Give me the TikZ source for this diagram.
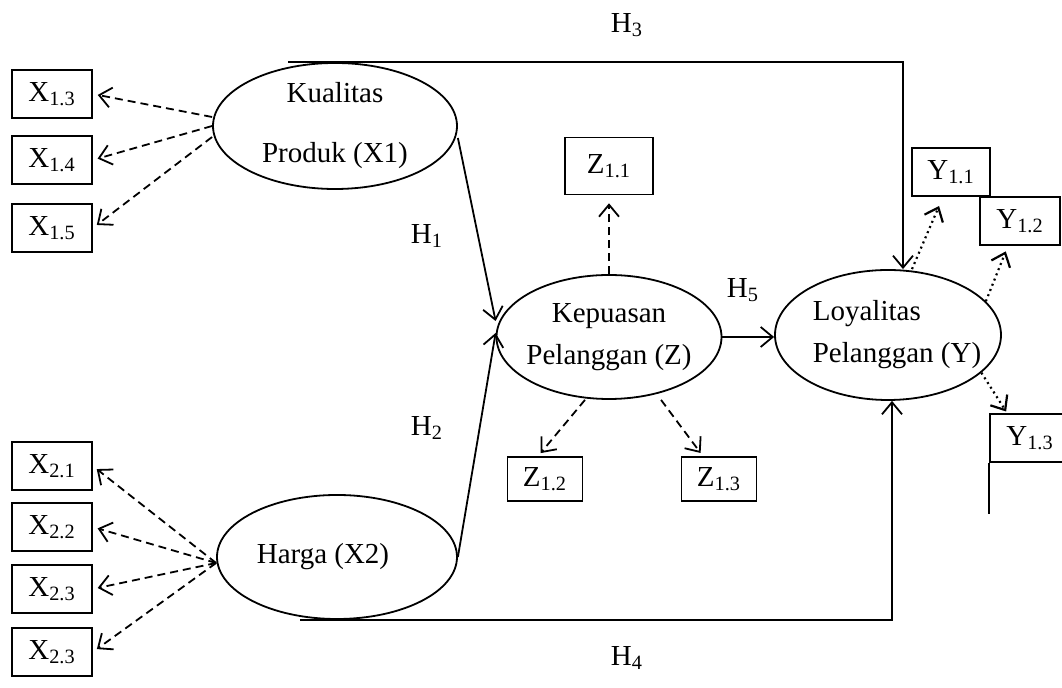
\documentclass[tikz,border=0pt]{standalone}
\usepackage{fontspec}
\setmainfont{Liberation Serif}
\usetikzlibrary{arrows.meta,shapes.geometric,positioning}
\tikzstyle{latent}   =[ellipse, draw, line width=0.9pt,
                       inner sep=-3pt, align=center]
\tikzstyle{indicator}=[rectangle, draw, line width=0.8pt,
                       minimum width=40pt, minimum height=24pt,
                       inner sep=0pt]
\tikzstyle{regress}  =[->, line width=0.9pt]
\tikzstyle{loading}  =[->, dash pattern=on 4pt off 2.5pt,
                       line width=0.9pt, shorten >=2.5pt]
\tikzstyle{loaddot}  =[->, dash pattern=on 1pt off 1.8pt,
                       line width=1.1pt]

\begin{document}
\begin{tikzpicture}[x=0.5pt, y=-0.5pt, >={Straight Barb[length=6pt,width=10pt]},
            every node/.style={font=\fontsize{14.5}{21}\selectfont}]
    \fill[white] (0,0) rectangle (1062,688);
    \useasboundingbox (0,0) rectangle (1062,688);

    % latent variables
    \node[latent, minimum width=122pt, minimum height=63pt] (kp) at (335,126)
        {Kualitas\\[9pt]Produk (X1)};
    \node[latent, minimum width=120pt, minimum height=62pt] (hg) at (337,557)
        {Harga (X2)\hspace{14pt}};
    \node[latent, minimum width=112.5pt, minimum height=62pt] (kz) at (609,337)
        {Kepuasan\\Pelanggan (Z)};
    \node[latent, minimum width=113pt, minimum height=65pt, align=left,
          inner xsep=-8pt] (ly) at (888,335)
        {\hspace{9pt}Loyalitas\\\hspace{9pt}Pelanggan (Y)};

    % indicators
    \foreach \n/\y/\t in {x13/94/1.3, x14/160/1.4, x15/228/1.5}
        \node[indicator] (\n) at (52,\y) {X\textsubscript{\t}};
    \foreach \n/\y/\t in {x21/466/2.1, x22/527/2.2, x23/589/2.3, x24/652/2.3}
        \node[indicator] (\n) at (52,\y) {X\textsubscript{\t}};
    \node[indicator, minimum width=44pt, minimum height=28.5pt] (z11) at (609,166) {Z\textsubscript{1.1}};
    \node[indicator, minimum width=37.5pt, minimum height=22pt] (z12) at (545,479) {Z\textsubscript{1.2}};
    \node[indicator, minimum width=37.5pt, minimum height=22pt] (z13) at (719,479) {Z\textsubscript{1.3}};
    \node[indicator, minimum width=39pt] (y11) at (951,172) {Y\textsubscript{1.1}};
    \node[indicator] (y12) at (1020,221) {Y\textsubscript{1.2}};
    \node[indicator] (y13) at (1030,438) {Y\textsubscript{1.3}};
    \draw[line width=0.8pt] (y13.south west) -- ++(0,51);

    % loadings
    \draw[loading] ([yshift=4.5pt]kp.west) to (x13.east);
    \draw[loading] (kp.west) to (x14.east);
    \draw[loading] ([yshift=-5.5pt]kp.west) to (x15.east);
    \foreach \n in {x21,x22,x23,x24}
        \draw[loading] ([yshift=-3pt]hg.west) to (\n.east);
    \draw[loading, shorten >=4pt] (kz.north) to (z11.south);
    \draw[loading, shorten >=2pt] ([xshift=-12pt]kz.south) to ([xshift=-3.5pt]z12.north);
    \draw[loading, shorten >=2pt] ([xshift=26pt]kz.south) to ([xshift=-8pt]z13.north);
    \draw[loaddot, shorten >=5pt] ([xshift=12pt]ly.north) to ([xshift=-4pt]y11.south);
    \draw[loaddot, shorten >=3pt] (ly.19) to ([xshift=-6pt]y12.south);
    \draw[loaddot, shorten >=1pt] (ly.-22) to ([xshift=9pt]y13.north west);

    % hypotheses
    \draw[regress] ([yshift=-6pt]kp.east) to ([yshift=8pt]kz.west);
    \draw[regress] (hg.east) to ([yshift=2pt]kz.west);
    \draw[regress] (kz.east) to (kz.east -| ly.west);
    \draw[regress] ([xshift=-23.5pt]kp.north) -| ([xshift=7.5pt]ly.north);
    \draw[regress] ([xshift=-18.5pt]hg.south) -| ([xshift=2pt]ly.south);

    \node (h3) at (627,25)  {H\textsubscript{3}};
    \node (h1) at (427,236) {H\textsubscript{1}};
    \node (h2) at (427,428) {H\textsubscript{2}};
    \node (h5) at (743,290) {H\textsubscript{5}};
    \node (h4) at (627,658) {H\textsubscript{4}};
\end{tikzpicture}
\end{document}
